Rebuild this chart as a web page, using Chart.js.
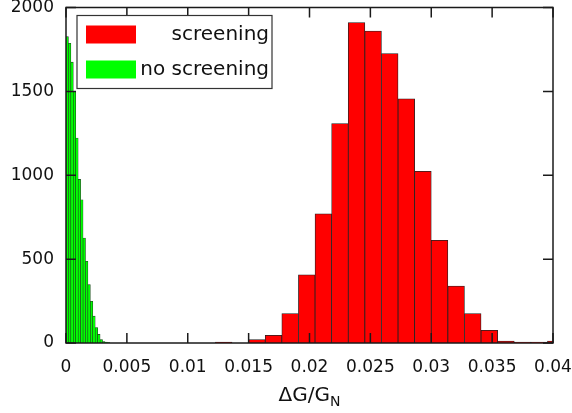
<!DOCTYPE html>
<html>
<head>
<meta charset="utf-8">
<script src="https://cdn.jsdelivr.net/npm/chart.js@4.4.0/dist/chart.umd.min.js"></script>
<style>
  html, body { margin: 0; padding: 0; background: #fff; }
  #wrap { width: 572px; height: 413px; }
</style>
</head>
<body>
<div id="wrap"><canvas id="hist"></canvas></div>
<script>
// bin centres and counts
const redBins = [0.012955, 0.014318, 0.015682, 0.017045, 0.018409, 0.019773, 0.021136,
                 0.0225, 0.023864, 0.025227, 0.026591, 0.027955, 0.029318, 0.030682,
                 0.032045, 0.033409, 0.034773, 0.036136, 0.0375, 0.038864, 0.040227];
const redCounts = [5, 0, 20, 46, 176, 406, 770, 1308, 1910, 1860, 1726, 1456, 1024, 612,
                   340, 176, 76, 12, 6, 6, 12];

const greenBins = [0.0001, 0.0003, 0.0005, 0.0007, 0.0009, 0.0011, 0.0013, 0.0015, 0.0017,
                   0.0019, 0.0021, 0.0023, 0.0025, 0.0027, 0.0029, 0.0031, 0.0033, 0.0035];
const greenCounts = [1826, 1787, 1674, 1500, 1222, 975, 854, 626, 487, 348, 249, 160, 92,
                     51, 21, 9, 5, 3];

const xTicks = [0, 0.005, 0.01, 0.015, 0.02, 0.025, 0.03, 0.035, 0.04];
const yTicks = [0, 500, 1000, 1500, 2000];
const seriesLabels = ['screening', 'no screening'];
const seriesColors = ['#ff0000', '#00ff00'];

const toPoints = (xs, ys) => xs.map((x, i) => ({ x: x, y: ys[i] }));

// inward ticks on all four sides, the frame, the boxed legend and the axis title
const framePlugin = {
  id: 'frame',
  afterDatasetsDraw(chart) {
    const { ctx, chartArea: a, scales: { x, y } } = chart;
    ctx.save();
    ctx.strokeStyle = '#1a1a1a';
    ctx.lineWidth = 1.5;
    ctx.beginPath();
    x.ticks.forEach(t => {
      const px = x.getPixelForValue(t.value);
      ctx.moveTo(px, a.bottom); ctx.lineTo(px, a.bottom - 10);
      ctx.moveTo(px, a.top); ctx.lineTo(px, a.top + 10);
    });
    y.ticks.forEach(t => {
      const py = y.getPixelForValue(t.value);
      ctx.moveTo(a.left, py); ctx.lineTo(a.left + 10, py);
      ctx.moveTo(a.right, py); ctx.lineTo(a.right - 10, py);
    });
    ctx.stroke();
    ctx.strokeRect(a.left, a.top, a.width, a.height);

    // legend
    const lx = a.left + 11, ly = a.top + 8, lw = 195, lh = 73;
    ctx.fillStyle = '#fff';
    ctx.fillRect(lx, ly, lw, lh);
    ctx.lineWidth = 1.2;
    ctx.strokeStyle = '#333';
    ctx.strokeRect(lx, ly, lw, lh);
    ctx.font = '20px "DejaVu Sans"';
    ctx.textAlign = 'right';
    ctx.textBaseline = 'middle';
    seriesLabels.forEach((lab, i) => {
      const cy = ly + 19 + i * 35;
      ctx.fillStyle = seriesColors[i];
      ctx.fillRect(lx + 9, cy - 9, 50, 18);
      ctx.fillStyle = '#111';
      ctx.fillText(lab, lx + lw - 3, cy);
    });

    // axis title  ΔG/G with subscript N
    const cx = (a.left + a.right) / 2;
    ctx.font = '20px "DejaVu Sans"';
    const main = 'ΔG/G';
    const mw = ctx.measureText(main).width;
    ctx.font = '14px "DejaVu Sans"';
    const sw = ctx.measureText('N').width;
    const x0 = cx - (mw + sw) / 2;
    ctx.textAlign = 'left';
    ctx.textBaseline = 'alphabetic';
    ctx.fillStyle = '#111';
    ctx.font = '20px "DejaVu Sans"';
    ctx.fillText(main, x0, 401);
    ctx.font = '14px "DejaVu Sans"';
    ctx.fillText('N', x0 + mw, 406);
    ctx.restore();
  }
};

new Chart(document.getElementById('hist'), {
  type: 'bar',
  data: {
    datasets: [{
      label: seriesLabels[0],
      data: toPoints(redBins, redCounts),
      backgroundColor: seriesColors[0],
      borderColor: '#222',
      borderWidth: 0.8,
      borderSkipped: 'bottom',
      barThickness: 'flex',
      barPercentage: 1,
      categoryPercentage: 1,
      stack: 'h'
    }, {
      label: seriesLabels[1],
      data: toPoints(greenBins, greenCounts),
      backgroundColor: seriesColors[1],
      borderColor: '#1f3a1f',
      borderWidth: 0.6,
      borderSkipped: 'bottom',
      barThickness: 'flex',
      barPercentage: 1,
      categoryPercentage: 1,
      stack: 'h'
    }]
  },
  options: {
    responsive: true,
    maintainAspectRatio: false,
    animation: false,
    devicePixelRatio: 1,
    layout: { padding: { left: 0, right: 19, top: 7.5, bottom: 0 } },
    plugins: {
      legend: { display: false },
      tooltip: { enabled: false }
    },
    scales: {
      x: {
        type: 'linear',
        min: 0,
        max: 0.04,
        offset: false,
        grid: { display: false, drawTicks: false },
        border: { display: false },
        afterBuildTicks: s => { s.ticks = xTicks.map(v => ({ value: v })); },
        afterFit: s => { s.height = 70; s.paddingLeft = 0; s.paddingRight = 0; },
        ticks: {
          padding: 14,
          color: '#111',
          font: { family: 'DejaVu Sans', size: 17 },
          maxRotation: 0,
          autoSkip: false,
          callback: v => String(+v.toFixed(4))
        }
      },
      y: {
        min: 0,
        max: 2000,
        stacked: false,
        grid: { display: false, drawTicks: false },
        border: { display: false },
        afterBuildTicks: s => { s.ticks = yTicks.map(v => ({ value: v })); },
        afterFit: s => { s.width = 66; s.paddingTop = 0; s.paddingBottom = 0; },
        ticks: {
          padding: 12,
          color: '#111',
          font: { family: 'DejaVu Sans', size: 17 },
          callback: v => String(v)
        }
      }
    }
  },
  plugins: [framePlugin]
});
</script>
</body>
</html>
